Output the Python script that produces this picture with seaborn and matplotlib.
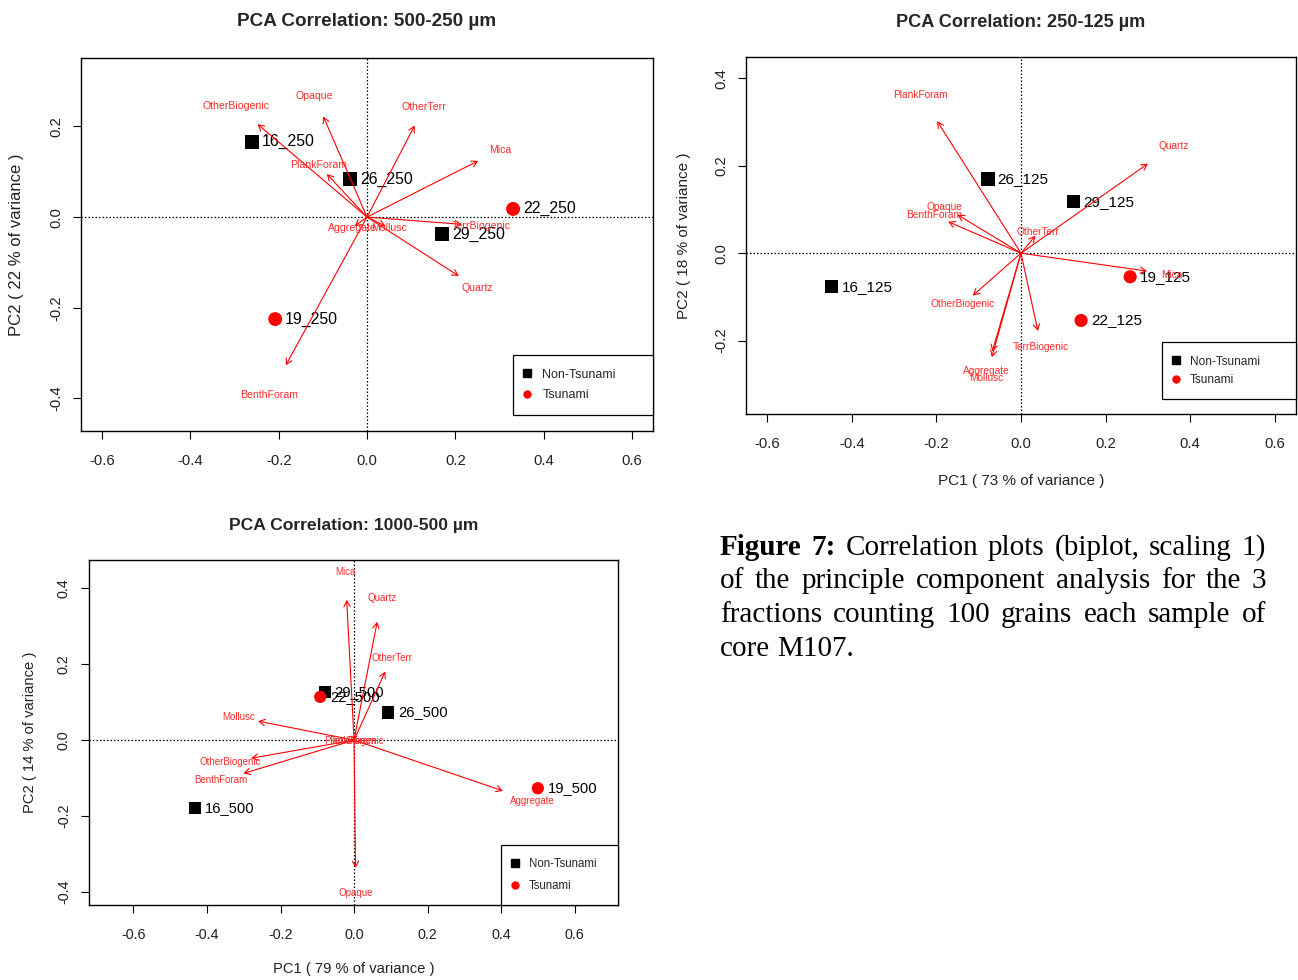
import matplotlib
matplotlib.use("Agg")
import matplotlib.pyplot as plt
import numpy as np
import pandas as pd
import seaborn as sns
from matplotlib.lines import Line2D

sns.set_style("ticks")
plt.rcParams["font.family"] = ["Liberation Sans", "DejaVu Sans"]
plt.rcParams["axes.unicode_minus"] = False

# ---------------------------------------------------------------- data
variables = ["Aggregate", "BenthForam", "Mica", "Mollusc", "Opaque",
             "OtherBiogenic", "OtherTerr", "PlankForam", "Quartz", "TerrBiogenic"]
group_names = ["Non-Tsunami", "Tsunami"]

# 500-250 µm fraction
samples_250 = ["16_250", "26_250", "22_250", "29_250", "19_250"]
groups_250 = ["Non-Tsunami", "Non-Tsunami", "Tsunami", "Non-Tsunami", "Tsunami"]
pc1_250 = [-0.260, -0.038, 0.331, 0.170, -0.208]
pc2_250 = [0.166, 0.084, 0.018, -0.038, -0.225]
load1_250 = [-0.028, -0.184, 0.252, 0.042, -0.099, -0.248, 0.108, -0.091, 0.208, 0.215]
load2_250 = [-0.020, -0.327, 0.124, -0.020, 0.222, 0.205, 0.202, 0.095, -0.130, -0.016]

# 250-125 µm fraction
samples_125 = ["16_125", "26_125", "29_125", "19_125", "22_125"]
groups_125 = ["Non-Tsunami", "Non-Tsunami", "Non-Tsunami", "Tsunami", "Tsunami"]
pc1_125 = [-0.447, -0.078, 0.124, 0.258, 0.142]
pc2_125 = [-0.077, 0.170, 0.118, -0.054, -0.154]
load1_125 = [-0.068, -0.172, 0.298, -0.069, -0.150, -0.114, 0.034, -0.198, 0.300, 0.040]
load2_125 = [-0.225, 0.072, -0.041, -0.238, 0.088, -0.097, 0.040, 0.302, 0.205, -0.178]

# 1000-500 µm fraction
samples_500 = ["16_500", "26_500", "29_500", "22_500", "19_500"]
groups_500 = ["Non-Tsunami", "Non-Tsunami", "Non-Tsunami", "Tsunami", "Tsunami"]
pc1_500 = [-0.433, 0.093, -0.079, -0.092, 0.500]
pc2_500 = [-0.180, 0.073, 0.127, 0.114, -0.127]
load1_500 = [0.405, -0.301, -0.020, -0.261, 0.004, -0.280, 0.085, -0.008, 0.063, 0.008]
load2_500 = [-0.134, -0.088, 0.370, 0.050, -0.337, -0.048, 0.181, -0.002, 0.312, -0.002]

titles = ["PCA Correlation: 500-250 µm", "PCA Correlation: 250-125 µm",
          "PCA Correlation: 1000-500 µm"]
xlabels = [None, "PC1 ( 73 % of variance )", "PC1 ( 79 % of variance )"]
ylabels = ["PC2 ( 22 % of variance )", "PC2 ( 18 % of variance )",
           "PC2 ( 14 % of variance )"]
xticks = [-0.6, -0.4, -0.2, 0.0, 0.2, 0.4, 0.6]
yticks_250 = [-0.4, -0.2, 0.0, 0.2]
yticks_125 = [-0.2, 0.0, 0.2, 0.4]
yticks_500 = [-0.4, -0.2, 0.0, 0.2, 0.4]

caption_lines = ["Figure 7: Correlation plots (biplot, scaling 1)",
                 "of the principle component analysis for the 3",
                 "fractions counting 100 grains each sample of",
                 "core M107."]
caption_bold_words = 2

# ---------------------------------------------------------------- figure
W, H = 1298, 980
fig = plt.figure(figsize=(W / 100, H / 100), dpi=100)


def px_rect(left, top, right, bottom):
    return [left / W, 1 - bottom / H, (right - left) / W, (bottom - top) / H]


panels = [
    dict(samples=samples_250, groups=groups_250, pc1=pc1_250, pc2=pc2_250,
         l1=load1_250, l2=load2_250, yticks=yticks_250,
         rect=px_rect(81, 58, 653, 431), xlim=(-0.648, 0.648), ylim=(-0.472, 0.351),
         title=titles[0], xlabel=xlabels[0], ylabel=ylabels[0],
         fs_title=13.6, fs_tick=10.7, fs_lab=12.0, fs_pt=11.4, fs_var=7.6, fs_leg=9.0,
         ms=100, title_y=1.097, ylab_x=-0.112, xlab_y=-0.18,
         leg_box=(0.7552, 0.0429, 0.2448, 0.1635), leg_sp=0.69, leg_bp=1.1),
    dict(samples=samples_125, groups=groups_125, pc1=pc1_125, pc2=pc2_125,
         l1=load1_125, l2=load2_125, yticks=yticks_125,
         rect=px_rect(746, 57, 1296, 414), xlim=(-0.650, 0.650), ylim=(-0.368, 0.449),
         title=titles[1], xlabel=xlabels[1], ylabel=ylabels[1],
         fs_title=13.1, fs_tick=10.7, fs_lab=11.0, fs_pt=11.0, fs_var=7.3, fs_leg=8.6,
         ms=90, title_y=1.098, ylab_x=-0.113, xlab_y=-0.188,
         leg_box=(0.7564, 0.042, 0.2436, 0.1597), leg_sp=0.53, leg_bp=1.1),
    dict(samples=samples_500, groups=groups_500, pc1=pc1_500, pc2=pc2_500,
         l1=load1_500, l2=load2_500, yticks=yticks_500,
         rect=px_rect(89, 560, 618, 905), xlim=(-0.721, 0.718), ylim=(-0.435, 0.475),
         title=titles[2], xlabel=xlabels[2], ylabel=ylabels[2],
         fs_title=12.6, fs_tick=10.4, fs_lab=10.6, fs_pt=10.6, fs_var=7.0, fs_leg=8.3,
         ms=78, title_y=1.099, ylab_x=-0.1115, xlab_y=-0.186,
         leg_box=(0.7788, 0.0, 0.2212, 0.1797), leg_sp=0.86, leg_bp=1.15),
]

palette = {"Non-Tsunami": "black", "Tsunami": "red"}
markers = {"Non-Tsunami": "s", "Tsunami": "o"}

for p in panels:
    ax = fig.add_axes(p["rect"])
    scores = pd.DataFrame({"sample": p["samples"], "group": p["groups"],
                           "PC1": p["pc1"], "PC2": p["pc2"]})
    loads = pd.DataFrame({"var": variables, "PC1": p["l1"], "PC2": p["l2"]})

    ax.axhline(0, color="black", lw=0.9, ls=(0, (1.2, 1.6)), zorder=1)
    ax.axvline(0, color="black", lw=0.9, ls=(0, (1.2, 1.6)), zorder=1)

    sns.scatterplot(data=scores, x="PC1", y="PC2", hue="group", style="group",
                    palette=palette, markers=markers, hue_order=group_names,
                    style_order=group_names, s=p["ms"], linewidth=0,
                    legend=False, ax=ax, zorder=3)
    for _, r in scores.iterrows():
        ax.annotate(r["sample"], (r["PC1"], r["PC2"]), xytext=(7, 0),
                    textcoords="offset points", ha="left", va="center",
                    fontsize=p["fs_pt"], color="black", zorder=4)

    # loading arrows, labels at 1.2 x the tip
    for _, r in loads.iterrows():
        ax.annotate("", xy=(r["PC1"], r["PC2"]), xytext=(0, 0),
                    arrowprops=dict(arrowstyle="->,head_length=0.45,head_width=0.25",
                                    color="red", lw=0.8, shrinkA=0, shrinkB=0,
                                    mutation_scale=9), zorder=5)
        ax.text(1.2 * r["PC1"], 1.2 * r["PC2"], r["var"], color="#ff2a2a",
                fontsize=p["fs_var"], ha="center", va="center", zorder=6)

    ax.set_xlim(*p["xlim"])
    ax.set_ylim(*p["ylim"])
    ax.set_xticks(xticks)
    ax.set_yticks(p["yticks"])
    ax.set_xticklabels([f"{v:.1f}" for v in xticks])
    ax.set_yticklabels([f"{v:.1f}" for v in p["yticks"]], rotation=90, va="center")
    ax.tick_params(direction="out", length=6, width=0.8, color="black",
                   labelsize=p["fs_tick"], labelcolor="#222222")
    ax.tick_params(axis="x", pad=10.3)
    ax.tick_params(axis="y", pad=7)
    ax.set_xlabel("")
    ax.set_ylabel("")
    for s in ax.spines.values():
        s.set_visible(True)
        s.set_color("black")
        s.set_linewidth(1.0)

    ax.text(0.5, p["title_y"], p["title"], transform=ax.transAxes, ha="center",
            va="center", fontsize=p["fs_title"], fontweight="bold")
    ax.text(p["ylab_x"], 0.5, p["ylabel"], transform=ax.transAxes, rotation=90,
            ha="center", va="center", fontsize=p["fs_lab"], color="#222222")
    if p["xlabel"]:
        ax.text(0.5, p["xlab_y"], p["xlabel"], transform=ax.transAxes,
                ha="center", va="center", fontsize=p["fs_lab"], color="#222222")

    handles = [Line2D([], [], ls="none", marker="s", color="black", markersize=5.6),
               Line2D([], [], ls="none", marker="o", color="red", markersize=5.0)]
    leg = ax.legend(handles, group_names, loc="lower left",
                    bbox_to_anchor=p["leg_box"], mode="expand", borderaxespad=0,
                    fontsize=p["fs_leg"], handlelength=0.1, handletextpad=1.15,
                    borderpad=p["leg_bp"], labelspacing=p["leg_sp"], frameon=True,
                    fancybox=False, edgecolor="black", framealpha=1)
    leg.get_frame().set_linewidth(0.9)
    leg.set_zorder(10)

# ---------------------------------------------------------------- caption
renderer = fig.canvas.get_renderer()
cap_left, cap_right = 720, 1266
baselines = [555, 588, 622, 656]
word_idx = 0
for li, line in enumerate(caption_lines):
    words = line.split()
    items = []
    for w in words:
        bold = word_idx < caption_bold_words
        t = fig.text(0, 0, w, fontsize=21, family="Liberation Serif",
                     fontweight="bold" if bold else "normal", va="baseline",
                     ha="left", color="black")
        items.append(t)
        word_idx += 1
    widths = [t.get_window_extent(renderer).width for t in items]
    if li < len(caption_lines) - 1 and len(items) > 1:
        gap = (cap_right - cap_left - sum(widths)) / (len(items) - 1)
    else:
        gap = 21 * 100 / 72 * 0.25
    x = cap_left
    for t, wdt in zip(items, widths):
        t.set_position((x / W, 1 - baselines[li] / H))
        x += wdt + gap

fig.savefig("out.png", dpi=100)
